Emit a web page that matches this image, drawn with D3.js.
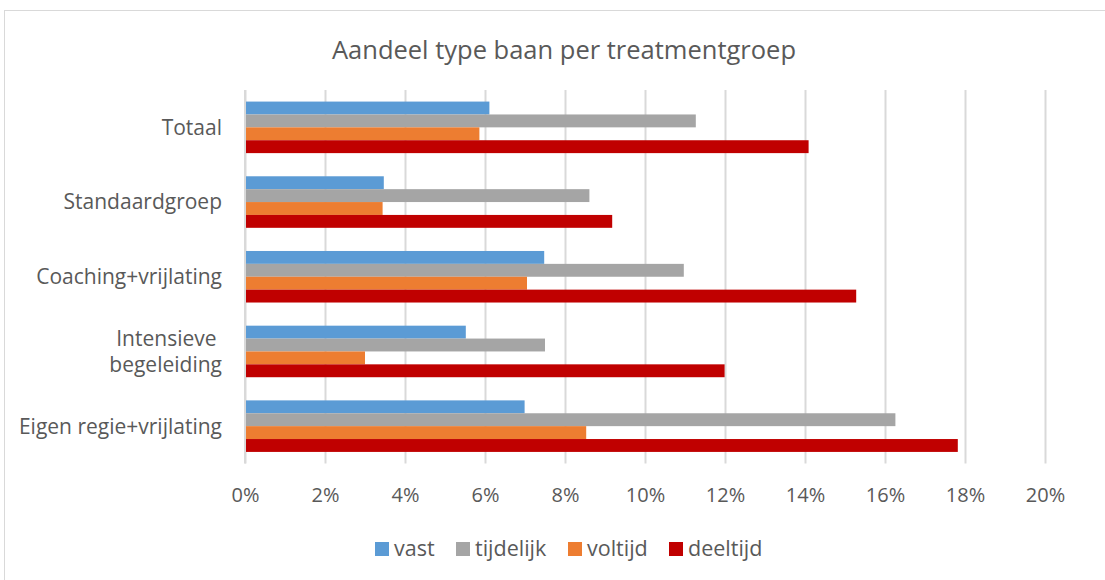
<!DOCTYPE html>
<html>
<head>
<meta charset="utf-8">
<script src="https://cdn.jsdelivr.net/npm/d3@7"></script>
<style>
  html, body { margin: 0; padding: 0; background: #fff; }
  svg { display: block; font-family: "Open Sans", sans-serif; }
  text { white-space: pre; }
</style>
</head>
<body>
<svg id="chart" width="1105" height="580"></svg>
<script>
const title = "Aandeel type baan per treatmentgroep";
const categories = ["Totaal", "Standaardgroep", "Coaching+vrijlating", "Intensieve \nbegeleiding", "Eigen regie+vrijlating"];
const seriesNames = ["vast", "tijdelijk", "voltijd", "deeltijd"];
const seriesColors = ["#5B9BD5", "#A5A5A5", "#ED7D31", "#C00000"];
const vast      = [6.11, 3.47, 7.48, 5.52, 6.99];
const tijdelijk = [11.27, 8.61, 10.97, 7.50, 16.26];
const voltijd   = [5.86, 3.44, 7.05, 3.00, 8.53];
const deeltijd  = [14.09, 9.18, 15.28, 11.99, 17.82];
const tickValues = [0, 2, 4, 6, 8, 10, 12, 14, 16, 18, 20];

const seriesValues = [vast, tijdelijk, voltijd, deeltijd];
const svg = d3.select("#chart");
const textColor = "#595959";

// outer chart border (only top/left visible in reference)
svg.append("rect").attr("x", 4.5).attr("y", 10.5).attr("width", 1110).attr("height", 600)
  .attr("fill", "none").attr("stroke", "#D9D9D9").attr("stroke-width", 1);

const x = d3.scaleLinear().domain([0, 20]).range([245, 1045]);
const y0 = d3.scaleBand().domain(categories).range([90, 463.5]).paddingInner(0.31).paddingOuter(0.155);
const y1 = d3.scaleBand().domain(seriesNames).range([0, y0.bandwidth()]);

// title
svg.append("text").attr("x", 564).attr("y", 59).attr("text-anchor", "middle")
  .attr("font-size", 25.5).attr("fill", textColor).text(title);

// gridlines + tick labels via axis
const axis = d3.axisBottom(x).tickValues(tickValues).tickFormat(d => d + "%")
  .tickSize(-(463.5 - 90)).tickPadding(0);
const ax = svg.append("g").attr("transform", "translate(0,463.5)").call(axis);
ax.select(".domain").remove();
ax.selectAll(".tick line").attr("stroke", "#D9D9D9").attr("stroke-width", 2);
ax.selectAll(".tick text").attr("fill", textColor).attr("font-size", 20)
  .attr("font-family", "Open Sans, sans-serif").attr("dy", null).attr("y", 38.5);

// bars
const groups = svg.append("g").selectAll("g").data(categories).join("g")
  .attr("transform", d => `translate(0,${y0(d)})`);
groups.selectAll("rect")
  .data((c, i) => seriesNames.map((s, j) => ({ s, v: seriesValues[j][i], color: seriesColors[j] })))
  .join("rect")
  .attr("x", x(0))
  .attr("y", d => y1(d.s))
  .attr("width", d => x(d.v) - x(0))
  .attr("height", y1.bandwidth())
  .attr("fill", d => d.color);

// vertical axis line at 0
svg.append("line").attr("x1", x(0)).attr("x2", x(0)).attr("y1", 90).attr("y2", 463.5)
  .attr("stroke", "#D9D9D9").attr("stroke-width", 2);

// category labels
const catG = svg.append("g");
categories.forEach(c => {
  const lines = c.split("\n");
  const cy = y0(c) + y0.bandwidth() / 2;
  const lh = 26;
  const t = catG.append("text").attr("text-anchor", "end").attr("font-size", 21)
    .attr("fill", textColor);
  lines.forEach((ln, k) => {
    t.append("tspan").attr("x", 222)
      .attr("y", cy + (k - (lines.length - 1) / 2) * lh)
      .attr("dy", "0.35em").text(ln);
  });
});

// legend
const legendX = [375, 456, 568, 669];
const lg = svg.append("g");
seriesNames.forEach((s, j) => {
  lg.append("rect").attr("x", legendX[j]).attr("y", 542).attr("width", 14).attr("height", 14)
    .attr("fill", seriesColors[j]);
  lg.append("text").attr("x", legendX[j] + 19).attr("y", 556).attr("font-size", 21.5)
    .attr("fill", textColor).text(s);
});
</script>
</body>
</html>
